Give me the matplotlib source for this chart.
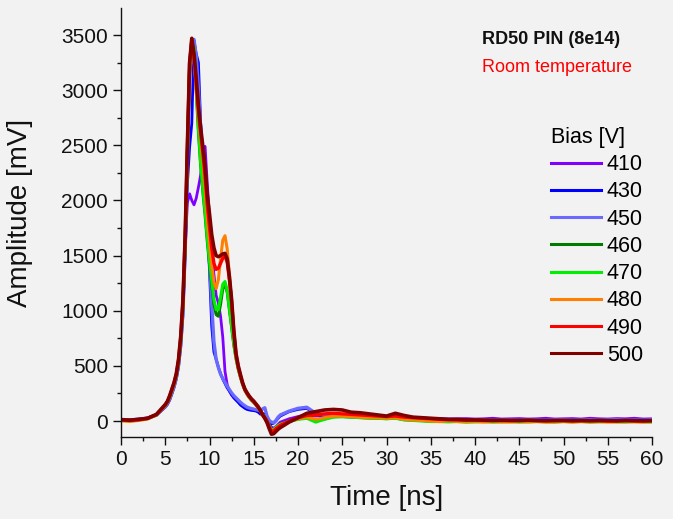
import numpy as np
import matplotlib
matplotlib.use("Agg")
import matplotlib.pyplot as plt
from matplotlib.ticker import MultipleLocator

plt.rcParams['font.family'] = ['Liberation Sans', 'DejaVu Sans']

# Time axis: 1 ns steps on the baselines, 0.25 ns steps through the pulse
t_ns = np.concatenate([np.arange(0.0, 5.0, 1.0),
                       np.arange(5.0, 18.001, 0.25),
                       np.arange(19.0, 60.001, 1.0)])

# Amplitudes in mV for each bias voltage
amp_410 = [15, 10, 18, 28, 58,
           140, 170, 215, 275, 335, 410, 535, 730, 1040, 1560, 1980, 2060, 2000,
           1960, 2020, 2120, 2230, 2380, 2490, 2150, 1850, 1580, 1330, 1140, 1070,
           950, 760, 450, 330, 270, 235, 210, 190, 175, 160, 145, 132, 122, 112,
           106, 100, 95, 90, 80, 60, 40, 10, -30, -55, -65, -50, -30, -10,
           20, 40, 55, 45, 50, 55, 50, 45, 40, 38, 35, 30, 35, 28, 25, 22, 20,
           22, 18, 20, 22, 18, 20, 25, 18, 20, 22, 18, 20, 25, 18, 20, 22, 18,
           25, 20, 18, 22, 20, 25, 18, 20]
amp_430 = [12, 8, 15, 24, 52,
           125, 150, 190, 245, 305, 380, 490, 670, 960, 1500, 2150, 2480, 2700,
           3440, 3330, 3250, 2700, 2420, 2160, 1860, 1360, 860, 625, 560, 490,
           430, 380, 340, 300, 272, 240, 212, 190, 168, 145, 130, 115, 105, 100,
           96, 94, 90, 80, 62, 70, 60, 15, -15, -25, -20, 0, 25, 45,
           85, 105, 115, 60, 48, 45, 40, 38, 35, 35, 30, 28, 32, 25, 22, 18, 15,
           15, 12, 10, 12, 10, 8, 10, 12, 8, 10, 8, 12, 10, 8, 10, 12, 8,
           10, 8, 10, 12, 8, 10, 12, 8]
amp_450 = [14, 10, 16, 25, 54,
           130, 160, 200, 255, 315, 390, 505, 690, 990, 1540, 2330, 3080, 3400,
           3460, 3310, 3010, 2660, 2360, 2060, 1760, 1450, 1060, 720, 560, 485,
           425, 385, 350, 315, 285, 255, 230, 210, 190, 170, 152, 138, 125, 118,
           112, 108, 103, 98, 92, 110, 120, 45, 5, -10, -15, 5, 35, 55,
           90, 115, 125, 70, 55, 50, 45, 40, 40, 35, 35, 30, 35, 28, 25, 20, 18,
           15, 15, 12, 10, 12, 10, 8, 12, 10, 8, 12, 10, 8, 10, 12, 8, 10,
           12, 8, 10, 12, 8, 10, 8, 10]
amp_460 = [8, 4, 12, 22, 55,
           140, 170, 215, 275, 335, 410, 535, 730, 1050, 1620, 2420, 3200, 3440,
           3340, 3000, 2620, 2320, 2080, 1870, 1630, 1420, 1240, 1060, 965, 950,
           1060, 1200, 1240, 1170, 1010, 850, 690, 565, 470, 395, 330, 278, 242, 212,
           188, 168, 148, 122, 92, 58, 28, -5, -45, -85, -80, -60, -45, -30,
           0, 20, 30, 0, 20, 40, 40, 38, 32, 28, 25, 22, 28, 12, 8, 5, 0,
           2, -3, 0, -5, -2, 0, -5, -3, 0, -5, -2, 0, -3, -5, 0, -3, 0,
           -5, -2, 0, -3, -5, 0, -3, -2]
amp_470 = [5, 0, 8, 20, 55,
           140, 170, 215, 275, 335, 410, 535, 730, 1050, 1620, 2430, 3210, 3460,
           3370, 3040, 2650, 2340, 2100, 1900, 1660, 1450, 1280, 1100, 1010, 1010,
           1120, 1240, 1265, 1180, 1020, 860, 700, 570, 475, 400, 335, 280, 245, 215,
           190, 170, 150, 125, 95, 60, 30, 0, -40, -80, -75, -55, -40, -30,
           -5, 15, 25, -10, 15, 35, 40, 35, 30, 25, 25, 20, 25, 10, 5, 0, -5,
           -5, -8, -5, -10, -8, -5, -10, -8, -5, -10, -8, -5, -8, -10, -5, -8, -5,
           -10, -8, -5, -8, -10, -5, -8, -10]
amp_480 = [2, -4, 5, 18, 55,
           140, 170, 215, 275, 335, 415, 540, 740, 1060, 1640, 2450, 3220, 3460,
           3280, 3010, 2760, 2560, 2360, 2110, 1850, 1610, 1410, 1260, 1200, 1280,
           1470, 1640, 1680, 1560, 1320, 1070, 790, 590, 480, 400, 335, 280, 245, 215,
           190, 170, 145, 120, 90, 55, 20, -10, -55, -90, -85, -65, -50, -35,
           -5, 20, 35, 15, 30, 45, 45, 40, 35, 30, 30, 25, 30, 15, 10, 5, 0,
           -5, 0, -5, -8, -5, -10, -5, -8, -10, -5, -8, -5, -10, -8, -5, -10, -5,
           -8, -5, -10, -8, -5, -8, -10, -5]
amp_490 = [10, 5, 12, 24, 58,
           145, 175, 225, 285, 345, 425, 550, 760, 1090, 1670, 2480, 3240, 3460,
           3300, 3060, 2810, 2610, 2430, 2220, 1960, 1760, 1570, 1430, 1375, 1385,
           1430, 1475, 1495, 1440, 1280, 1080, 800, 600, 490, 410, 340, 285, 250, 220,
           195, 175, 150, 125, 95, 60, 30, 0, -50, -95, -90, -70, -55, -40,
           0, 30, 50, 55, 65, 70, 65, 60, 55, 50, 45, 40, 45, 35, 30, 25, 20,
           15, 12, 10, 8, 8, 5, 5, 3, 5, 3, 5, 3, 2, 3, 5, 2, 3,
           2, 3, 2, 0, 3, 2, 0, 2]
amp_500 = [12, 8, 15, 25, 60,
           150, 180, 230, 290, 350, 430, 560, 770, 1100, 1680, 2500, 3250, 3470,
           3330, 3110, 2860, 2660, 2490, 2310, 2050, 1880, 1690, 1570, 1500, 1490,
           1500, 1515, 1520, 1470, 1310, 1100, 820, 610, 500, 420, 345, 290, 255, 225,
           200, 180, 155, 130, 95, 55, 25, -15, -70, -120, -115, -95, -75, -60,
           -10, 30, 70, 85, 100, 105, 100, 80, 75, 65, 55, 45, 70, 50, 35, 30, 25,
           20, 15, 15, 10, 10, 8, 5, 8, 5, 5, 8, 5, 3, 5, 5, 3, 5,
           3, 5, 3, 2, 5, 3, 2, 3]

bias_labels = ['410', '430', '450', '460', '470', '480', '490', '500']
series = [amp_410, amp_430, amp_450, amp_460, amp_470, amp_480, amp_490, amp_500]
colors = ['#8000ff', '#0000ff', '#6a6aff', '#007a00', '#00ee00', '#ff8000', '#ff0000', '#800000']
widths = [2.0, 2.0, 2.4, 2.2, 2.2, 2.2, 2.4, 2.6]

bg = '#f2f2f2'
fig = plt.figure(figsize=(6.73, 5.19), dpi=100, facecolor=bg)
ax = fig.add_axes([121 / 673, 1 - 437 / 519, 531 / 673, 429 / 519], facecolor=bg)

for vals, lab, col, lw in zip(series, bias_labels, colors, widths):
    ax.plot(t_ns, vals, color=col, lw=lw, label=lab, solid_joinstyle='round')

ax.set_xlim(0, 60)
ax.set_ylim(-145, 3745)
ax.xaxis.set_major_locator(MultipleLocator(5))
ax.xaxis.set_minor_locator(MultipleLocator(2.5))
ax.set_yticks(np.arange(0, 3501, 500))
ax.yaxis.set_minor_locator(MultipleLocator(250))

for side in ['top', 'right']:
    ax.spines[side].set_visible(False)
for side in ['left', 'bottom']:
    ax.spines[side].set_linewidth(1.0)
    ax.spines[side].set_color('#111111')

ax.tick_params(which='major', direction='out', length=5.5, width=1.0, labelsize=15,
               color='#111111', labelcolor='#111111')
ax.tick_params(which='minor', direction='out', length=3, width=1.0, color='#111111')
ax.tick_params(axis='y', which='major', pad=4)
ax.tick_params(axis='x', which='major', pad=4)

ax.set_xlabel('Time [ns]', fontsize=20, color='#111111')
ax.set_ylabel('Amplitude [mV]', fontsize=20, color='#111111')
ax.xaxis.set_label_coords(0.5, -0.112)
ax.yaxis.set_label_coords(-0.166, 0.522)

fig.text(482 / 673, 1 - 40 / 519, 'RD50 PIN (8e14)', fontsize=13, fontweight='bold',
         color='#111111', va='center', ha='left')
fig.text(482 / 673, 1 - 67 / 519, 'Room temperature', fontsize=13,
         color='#ff0000', va='center', ha='left')

leg = ax.legend(title='Bias [V]', loc='upper left', bbox_to_anchor=(551 / 673, 1 - 127 / 519),
                bbox_transform=fig.transFigure, frameon=False, fontsize=15.5,
                title_fontsize=15.5, alignment='left', handlelength=2.3,
                handletextpad=0.3, labelspacing=0.29, borderpad=0, borderaxespad=0)
for h in leg.get_lines():
    h.set_linewidth(2.2)

fig.savefig('out.png', dpi=100, facecolor=bg)
